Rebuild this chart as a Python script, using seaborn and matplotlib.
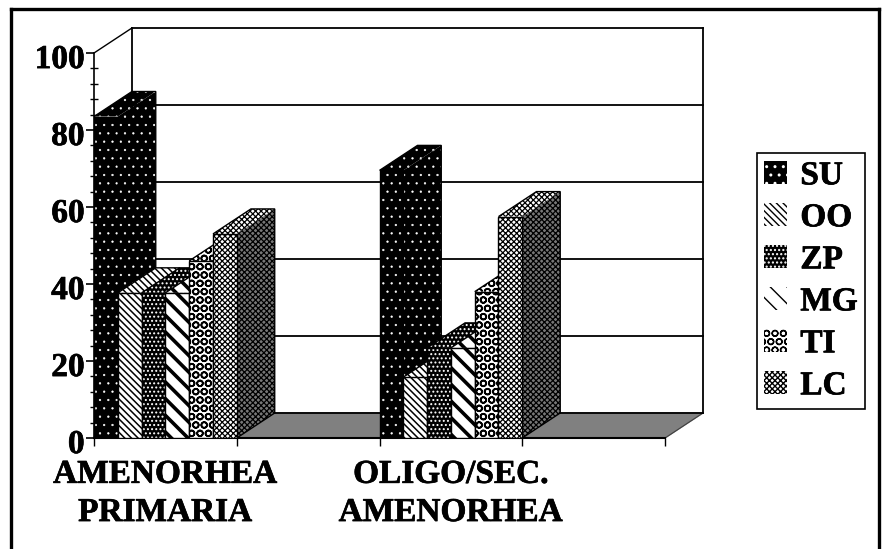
import matplotlib
matplotlib.use("Agg")
import matplotlib.pyplot as plt
import matplotlib.patheffects as pe
import matplotlib.transforms as mtrans
import pandas as pd
import seaborn as sns
from matplotlib.lines import Line2D
from matplotlib.patches import Patch, Polygon, Rectangle

groups = ["AMENORHEA\nPRIMARIA", "OLIGO/SEC.\nAMENORHEA"]
series = ["SU", "OO", "ZP", "MG", "TI", "LC"]
su = [83.5, 69.5]
oo = [37.7, 15.8]
zp = [37.7, 23.4]
mg = [37.7, 23.4]
ti = [46, 38]
lc = [53, 57.5]

# face colour, hatch colour, hatch, hatch width, side face colour
styles = {
    "SU": ("black", "white", "..", 0.4, "black"),
    "OO": ("white", "black", "\\\\\\\\\\", 1.1, "white"),
    "ZP": ("black", "white", "....", 0.9, "black"),
    "MG": ("white", "black", "\\\\", 2.6, "white"),
    "TI": ("white", "black", "OO", 1.2, "white"),
    "LC": ("white", "black", "xxxxxx", 0.9, "#777777"),
}

DEPTH_X = 0.133
DEPTH_Y = 6.5

plt.rcParams["font.family"] = ["Liberation Serif", "DejaVu Serif"]
plt.rcParams["font.weight"] = "bold"

rows = []
for name, vals in zip(series, [su, oo, zp, mg, ti, lc]):
    for g, v in zip(groups, vals):
        rows.append({"group": g, "series": name, "value": v})
df = pd.DataFrame(rows)

fig = plt.figure(figsize=(8.83, 5.49), dpi=100)
ax = fig.add_axes([94 / 883, 1 - 438 / 549, 571 / 883, 385 / 549])
sns.barplot(data=df, x="group", y="value", hue="series", order=groups, hue_order=series,
            width=0.5, gap=0, dodge=True, legend=False, saturation=1, ax=ax)
ax.set_xlim(-0.25, 1.75)
ax.set_ylim(0, 100)
ax.set_xlabel("")
ax.set_ylabel("")
for s in ["top", "right", "bottom"]:
    ax.spines[s].set_visible(False)
ax.spines["left"].set_linewidth(1.2)
ax.patch.set_visible(False)

bars = sorted(ax.patches, key=lambda p: p.get_x())
names = [s for _ in groups for s in series]

# floor and back wall
x0, x1 = ax.get_xlim()
ax.add_patch(Polygon([(x0, 0), (x1, 0), (x1 + DEPTH_X, DEPTH_Y), (x0 + DEPTH_X, DEPTH_Y)],
                     facecolor="#808080", edgecolor="#808080", clip_on=False, zorder=1))
ax.plot([x0, x1], [0, 0], color="black", lw=1.5, clip_on=False, zorder=2)
ax.plot([x1, x1 + DEPTH_X], [0, DEPTH_Y], color="#404040", lw=0.8, clip_on=False, zorder=1.5)
ax.plot([x0, x0 + DEPTH_X], [100, 100 + DEPTH_Y], color="black", lw=1, clip_on=False, zorder=1.5)
for wall_x in [x0 + DEPTH_X, x1 + DEPTH_X]:
    ax.plot([wall_x, wall_x], [DEPTH_Y, 100 + DEPTH_Y], color="black", lw=1.3, clip_on=False, zorder=1.5)
for level in [0, 20, 40, 60, 80, 100]:
    ax.plot([x0 + DEPTH_X, x1 + DEPTH_X], [level + DEPTH_Y, level + DEPTH_Y],
            color="black", lw=1.3, clip_on=False, zorder=1.5)

# bars go left to right so each front hides the side of the bar before it
for k, (bar, name) in enumerate(zip(bars, names)):
    face, ink, hatch, hw, side = styles[name]
    x, w, h = bar.get_x(), bar.get_width(), bar.get_height()
    z = 3 + k * 0.1
    bar.set(facecolor=face, edgecolor=ink, hatch=hatch, linewidth=0, zorder=z + 0.02)
    bar.set_hatch_linewidth(hw)
    ax.add_patch(Rectangle((x, 0), w, h, fill=False, edgecolor="black", lw=1, zorder=z + 0.03))
    top = Polygon([(x, h), (x + w, h), (x + w + DEPTH_X, h + DEPTH_Y), (x + DEPTH_X, h + DEPTH_Y)],
                  facecolor=face, edgecolor=ink, hatch=hatch, lw=0, clip_on=False, zorder=z)
    top.set_hatch_linewidth(hw)
    ax.add_patch(top)
    sd = Polygon([(x + w, 0), (x + w, h), (x + w + DEPTH_X, h + DEPTH_Y), (x + w + DEPTH_X, DEPTH_Y)],
                 facecolor=side, edgecolor="white" if side == "black" else ink, hatch=hatch, lw=0,
                 clip_on=False, zorder=z)
    sd.set_hatch_linewidth(hw)
    ax.add_patch(sd)
    ax.add_patch(Polygon([(x, h), (x + DEPTH_X, h + DEPTH_Y), (x + w + DEPTH_X, h + DEPTH_Y),
                          (x + w + DEPTH_X, DEPTH_Y), (x + w, 0)],
                         closed=False, fill=False, edgecolor="black", lw=1, clip_on=False, zorder=z + 0.01))

# ticks
heavy = [pe.withStroke(linewidth=0.5, foreground="black")]
ax.set_yticks(range(0, 101, 20))
ax.set_yticks(range(0, 101, 4), minor=True)
ax.tick_params(axis="y", which="major", length=5.8, width=1.2, labelsize=24, pad=1)
ax.tick_params(axis="y", which="minor", length=6, width=1, direction="inout")
shift_down = mtrans.ScaledTranslation(0, -2.2 / 72, fig.dpi_scale_trans)
for lab in ax.get_yticklabels():
    lab.set_transform(lab.get_transform() + shift_down)
    lab.set_path_effects(heavy)
ax.set_xticks([0, 1])
ax.set_xticklabels(groups, linespacing=1.3)
ax.set_xticks([-0.25, 0.25, 0.75, 1.25, 1.75], minor=True)
ax.tick_params(axis="x", which="major", length=0, labelsize=24, pad=15)
ax.tick_params(axis="x", which="minor", length=6, width=1)
for lab in ax.get_xticklabels():
    lab.set_path_effects(heavy)

handles = []
for name in series:
    face, ink, hatch, hw, side = styles[name]
    p = Patch(facecolor=face, edgecolor=ink, hatch=hatch, lw=0)
    p.set_hatch_linewidth(hw)
    handles.append(p)
leg = fig.legend(handles, series, loc="upper left", bbox_to_anchor=(757 / 883, 1 - 153 / 549),
                 fontsize=24, frameon=True, fancybox=False, edgecolor="black", framealpha=1,
                 handlelength=0.68, handleheight=0.68, labelspacing=0.33, handletextpad=0.4,
                 borderpad=0.22, borderaxespad=0)
leg.get_frame().set_linewidth(1.2)
for t in leg.get_texts():
    t.set_path_effects(heavy)

# outer frame, open at the bottom
for fx, fy in [([11, 11], [549, 9]), ([11, 879], [9, 9]), ([879, 879], [9, 549])]:
    fig.add_artist(Line2D([v / 883 for v in fx], [1 - v / 549 for v in fy], color="black", lw=2.4))

fig.savefig("out.png", dpi=100)
